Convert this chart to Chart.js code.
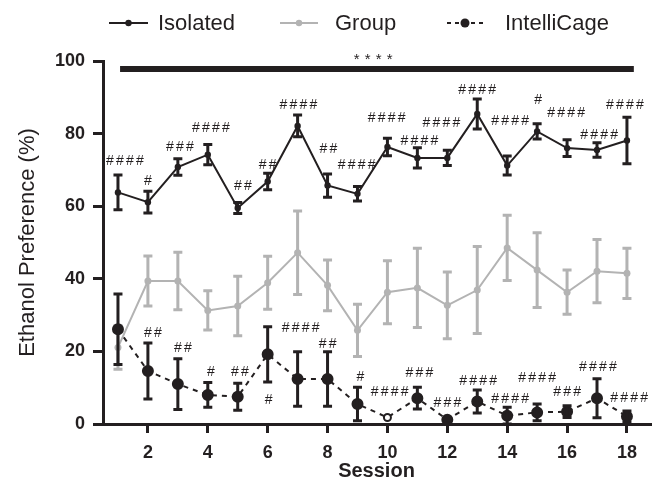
<!DOCTYPE html>
<html>
<head>
<meta charset="utf-8">
<script src="https://cdn.jsdelivr.net/npm/chart.js@4"></script>
<style>
  html, body { margin: 0; padding: 0; background: #fff; }
  #wrap { width: 657px; height: 496px; }
</style>
</head>
<body>
<div id="wrap"><canvas id="prefChart" width="657" height="496"></canvas></div>
<script>
const sessions = [1, 2, 3, 4, 5, 6, 7, 8, 9, 10, 11, 12, 13, 14, 15, 16, 17, 18];
const xTicks = [2, 4, 6, 8, 10, 12, 14, 16, 18];

const isolated    = [63.8, 61.1, 70.8, 74.2, 59.5, 66.8, 82.1, 65.7, 63.4, 76.3, 73.3, 73.3, 85.4, 71.2, 80.6, 76.0, 75.5, 78.1];
const isolatedErr = [4.8, 3.0, 2.3, 2.8, 1.5, 2.3, 3.0, 3.2, 2.0, 2.4, 2.8, 2.1, 4.1, 2.6, 2.1, 2.3, 2.0, 6.4];
const group       = [21.1, 39.4, 39.4, 31.3, 32.5, 38.9, 47.2, 38.2, 25.8, 36.3, 37.5, 32.7, 36.9, 48.5, 42.4, 36.3, 42.1, 41.5];
const groupErr    = [6.0, 6.9, 7.9, 5.4, 8.2, 7.3, 11.5, 7.0, 7.2, 8.7, 10.9, 9.2, 12.0, 9.0, 10.3, 6.1, 8.7, 6.9];
const intelli     = [26.1, 14.6, 11.0, 8.0, 7.5, 19.2, 12.4, 12.4, 5.5, 1.8, 7.1, 1.2, 6.2, 2.3, 3.2, 3.4, 7.1, 2.1];
const intelliErr  = [9.7, 7.7, 7.0, 3.4, 3.7, 7.6, 7.5, 7.5, 4.6, 0, 3.0, 0, 3.2, 2.3, 2.3, 1.6, 5.4, 1.5];

// significance marks (# vs IntelliCage / Group), anchored in data units
const isoMarks  = ['####', '#', '###', '####', '##', '##', '####', '##', '####', '####', '####', '####', '####', '####', '#', '####', '####', '####'];
const isoMarkX  = [1.23, 2.0, 3.07, 4.1, 5.17, 6.0, 7.03, 8.03, 8.97, 9.97, 11.07, 11.8, 13.0, 14.1, 15.03, 15.97, 17.07, 17.93];
const isoMarkY  = [72.3, 66.8, 76.4, 81.6, 65.4, 71.4, 87.9, 75.8, 71.4, 84.3, 78.0, 83.0, 92.0, 83.5, 89.3, 85.7, 79.7, 87.9];
const icMarks   = ['##', '##', '#', '##', '####', '#', '##', '#', '####', '###', '###', '####', '####', '####', '###', '####', '####'];
const icMarkX   = [2.17, 3.17, 4.1, 5.07, 7.1, 6.03, 8.0, 9.1, 10.07, 11.07, 12.0, 13.03, 14.1, 15.0, 16.0, 17.03, 18.07];
const icMarkY   = [25.0, 20.9, 14.3, 14.3, 26.4, 6.6, 22.0, 12.9, 8.8, 14.0, 5.8, 11.8, 6.9, 12.6, 8.8, 15.7, 7.1];

const sigBar = { from: 1.07, to: 18.23, y: 97.8, label: '****', labelX: 9.52, labelY: 101.1 };

const INK = '#231f20';
const GREY = '#b3b3b3';
const errors = [isolatedErr, groupErr, intelliErr];

function toPoints(vals) {
    return sessions.map((s, i) => ({ x: s, y: vals[i] }));
}

function spacedText(ctx, text, cx, cy, step) {
    const start = cx - (text.length - 1) * step / 2;
    for (let i = 0; i < text.length; i++) {
        ctx.fillText(text[i], start + i * step, cy);
    }
}

const decorations = {
    id: 'decorations',
    afterDatasetDraw(chart, args) {
        const ds = chart.data.datasets[args.index];
        const err = errors[args.index];
        const xs = chart.scales.x, ys = chart.scales.y;
        const ctx = chart.ctx;
        ctx.save();
        ctx.strokeStyle = ds.borderColor;
        ctx.lineWidth = 3;
        ctx.setLineDash([]);
        ds.data.forEach((p, i) => {
            if (!err[i]) return;
            const px = xs.getPixelForValue(p.x);
            const top = ys.getPixelForValue(p.y + err[i]);
            const bot = ys.getPixelForValue(Math.max(0, p.y - err[i]));
            ctx.beginPath();
            ctx.moveTo(px, top); ctx.lineTo(px, bot);
            ctx.moveTo(px - 4.5, top); ctx.lineTo(px + 4.5, top);
            ctx.moveTo(px - 4.5, bot); ctx.lineTo(px + 4.5, bot);
            ctx.stroke();
        });
        ctx.restore();
    },
    afterDraw(chart) {
        const xs = chart.scales.x, ys = chart.scales.y;
        const ctx = chart.ctx;
        ctx.save();
        ctx.fillStyle = INK;
        ctx.textAlign = 'center';
        ctx.textBaseline = 'middle';
        ctx.font = '14px "Liberation Sans", Arial, sans-serif';
        isoMarks.forEach((t, i) => spacedText(ctx, t, xs.getPixelForValue(isoMarkX[i]), ys.getPixelForValue(isoMarkY[i]), 10));
        icMarks.forEach((t, i) => spacedText(ctx, t, xs.getPixelForValue(icMarkX[i]), ys.getPixelForValue(icMarkY[i]), 10));

        // group-wide significance bar
        ctx.strokeStyle = INK;
        ctx.lineWidth = 6;
        ctx.beginPath();
        ctx.moveTo(xs.getPixelForValue(sigBar.from), ys.getPixelForValue(sigBar.y));
        ctx.lineTo(xs.getPixelForValue(sigBar.to), ys.getPixelForValue(sigBar.y));
        ctx.stroke();
        ctx.font = '15px "Liberation Sans", Arial, sans-serif';
        spacedText(ctx, sigBar.label, xs.getPixelForValue(sigBar.labelX), ys.getPixelForValue(sigBar.labelY) + 3, 11);

        // legend
        const items = [
            { text: 'Isolated', color: INK, x0: 109, x1: 148, dot: 3.2, dash: [], textX: 158 },
            { text: 'Group', color: GREY, x0: 280, x1: 318, dot: 3.2, dash: [], textX: 335 },
            { text: 'IntelliCage', color: INK, x0: 447, x1: 483, dot: 4.5, dash: [4, 4], textX: 505 }
        ];
        const ly = 23;
        ctx.textAlign = 'left';
        ctx.font = '22px "Liberation Sans", Arial, sans-serif';
        items.forEach(it => {
            ctx.strokeStyle = it.color;
            ctx.fillStyle = it.color;
            ctx.lineWidth = 2;
            ctx.setLineDash(it.dash);
            ctx.beginPath();
            ctx.moveTo(it.x0, ly); ctx.lineTo(it.x1, ly);
            ctx.stroke();
            ctx.setLineDash([]);
            ctx.beginPath();
            ctx.arc((it.x0 + it.x1) / 2, ly, it.dot, 0, Math.PI * 2);
            ctx.fill();
            ctx.fillStyle = '#231f20';
            ctx.fillText(it.text, it.textX, ly + 1);
        });
        ctx.restore();
    }
};

const ctx = document.getElementById('prefChart').getContext('2d');
new Chart(ctx, {
    type: 'line',
    data: {
        datasets: [
            {
                label: 'Isolated',
                data: toPoints(isolated),
                borderColor: INK,
                backgroundColor: INK,
                borderWidth: 2,
                pointRadius: 3.2,
                pointBorderWidth: 0,
                order: 1
            },
            {
                label: 'Group',
                data: toPoints(group),
                borderColor: GREY,
                backgroundColor: GREY,
                borderWidth: 2,
                pointRadius: 3.5,
                pointBorderWidth: 0,
                order: 3
            },
            {
                label: 'IntelliCage',
                data: toPoints(intelli),
                borderColor: INK,
                backgroundColor: INK,
                borderWidth: 2,
                borderDash: [5, 5],
                pointRadius: sessions.map(s => s === 10 ? 3.5 : 5),
                pointBorderWidth: 2,
                pointBorderColor: INK,
                pointBackgroundColor: sessions.map(s => s === 10 ? '#ffffff' : INK),
                order: 2
            }
        ]
    },
    options: {
        responsive: false,
        animation: false,
        layout: { padding: { top: 61, right: 7, left: 0, bottom: 0 } },
        plugins: {
            legend: { display: false },
            tooltip: { enabled: false }
        },
        scales: {
            x: {
                type: 'linear',
                min: 0.5,
                max: 18.77,
                afterBuildTicks: scale => { scale.ticks = xTicks.map(v => ({ value: v })); },
                afterFit: scale => { scale.height = 72; },
                grid: { drawOnChartArea: false, tickLength: 9, lineWidth: 3, color: INK },
                border: { display: true, width: 3, color: INK },
                ticks: {
                    color: INK,
                    padding: 9,
                    maxRotation: 0,
                    font: { family: '"Liberation Sans", Arial, sans-serif', size: 18, weight: 'bold' }
                },
                title: {
                    display: true,
                    text: 'Session',
                    color: INK,
                    padding: { top: 0, bottom: 13 },
                    font: { family: '"Liberation Sans", Arial, sans-serif', size: 20, weight: 'bold' }
                }
            },
            y: {
                min: 0,
                max: 100,
                afterFit: scale => { scale.width = 103; },
                grid: { drawOnChartArea: false, tickLength: 10, lineWidth: 3, color: INK },
                border: { display: true, width: 3, color: INK },
                ticks: {
                    stepSize: 20,
                    color: INK,
                    padding: 8,
                    font: { family: '"Liberation Sans", Arial, sans-serif', size: 18, weight: 'bold' }
                },
                title: {
                    display: true,
                    text: 'Ethanol Preference (%)',
                    color: INK,
                    padding: { top: 15, bottom: 0 },
                    font: { family: '"Liberation Sans", Arial, sans-serif', size: 22 }
                }
            }
        }
    },
    plugins: [decorations]
});
</script>
</body>
</html>
